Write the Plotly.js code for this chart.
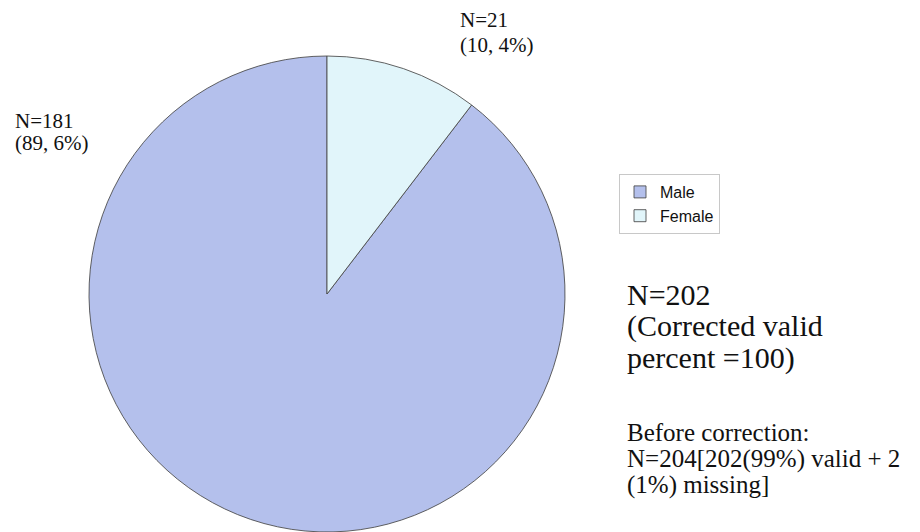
<!DOCTYPE html>
<html>
<head>
<meta charset="utf-8">
<script src="https://cdn.plot.ly/plotly-3.0.1.min.js"></script>
<style>html,body{margin:0;padding:0;background:#fff}#chart{width:920px;height:532px}</style>
</head>
<body>
<div id="chart"></div>
<script>
// ---- data ----
const categories = ["Male", "Female"];
const counts = [181, 21];
const sliceColors = ["#b4c0ec", "#e1f5fa"];
const maleLabel = ["N=181", "(89, 6%)"];
const femaleLabel = ["N=21", "(10, 4%)"];
const noteMain = ["N=202", "(Corrected valid", "percent =100)"];
const noteBefore = ["Before correction:", "N=204[202(99%) valid + 2", "(1%) missing]"];

const W = 920, H = 532;
const py = v => 1 - v / H;
const px = v => v / W;

const serif = "Liberation Serif, Times New Roman, serif";
const annotations = [];
function addLines(lines, x, ys, size) {
  lines.forEach((t, i) => annotations.push({
    text: t, xref: "paper", yref: "paper", x: px(x), y: py(ys[i]),
    xanchor: "left", yanchor: "middle", showarrow: false,
    font: {family: serif, size: size, color: "#111"}
  }));
}
addLines(maleLabel, 13, [121, 143], 21);
addLines(femaleLabel, 458, [20, 45], 21);
addLines(noteMain, 625, [294, 326, 358], 30);
addLines(noteBefore, 625, [432, 459, 485], 25);

const total = counts.reduce((a, b) => a + b, 0);
const trace = {
  type: "pie",
  labels: categories,
  values: counts,
  sort: false,
  direction: "clockwise",
  rotation: counts[1] / total * 360,
  textinfo: "none",
  hoverinfo: "label+value+percent",
  marker: {colors: sliceColors, line: {color: "rgba(70,70,70,0.85)", width: 1}},
  domain: {x: [89 / W, 565 / W], y: [0, py(56)]}
};

const layout = {
  width: W, height: H,
  margin: {l: 0, r: 0, t: 0, b: 0},
  paper_bgcolor: "#ffffff",
  showlegend: true,
  legend: {
    x: px(619), y: py(174), xanchor: "left", yanchor: "top",
    bgcolor: "#ffffff", bordercolor: "#c8c8c8", borderwidth: 1,
    font: {family: "Liberation Sans, Arial, sans-serif", size: 16, color: "#111"},
    itemwidth: 30
  },
  annotations: annotations
};

Plotly.newPlot("chart", [trace], layout, {displayModeBar: false, staticPlot: true});
</script>
</body>
</html>
